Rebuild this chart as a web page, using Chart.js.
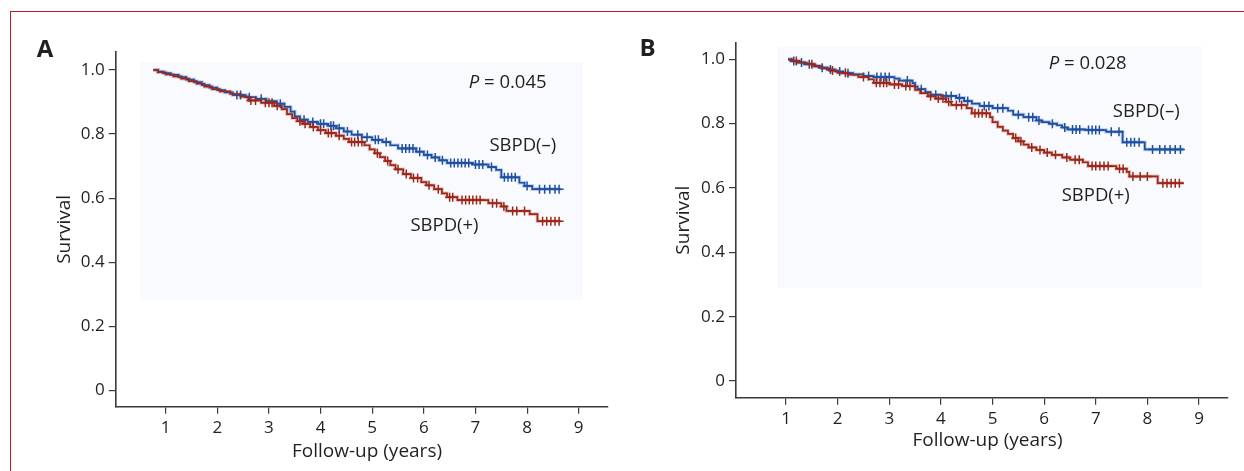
<!DOCTYPE html>
<html>
<head>
<meta charset="utf-8">
<title>Survival by SBPD</title>
<script src="https://cdn.jsdelivr.net/npm/chart.js@4.4.0/dist/chart.umd.min.js"></script>
<style>
  html, body { margin: 0; padding: 0; background: #fff; }
  body { width: 1244px; height: 471px; position: relative; overflow: hidden; }
  .frame {
    position: absolute; left: 10px; top: 11px; right: -10px; bottom: -10px;
    border-top: 1.5px solid #b0222d; border-left: 1.5px solid #b0222d;
  }
  .panel { position: absolute; top: 0; height: 471px; }
  #wrapA { left: 0; width: 620px; }
  #wrapB { left: 620px; width: 624px; }
</style>
</head>
<body>
<div class="frame"></div>
<div class="panel" id="wrapA"><canvas id="chartA" width="620" height="471"></canvas></div>
<div class="panel" id="wrapB"><canvas id="chartB" width="624" height="471"></canvas></div>
<script>
        // Axis ticks and labels
        const xTicks = [1, 2, 3, 4, 5, 6, 7, 8, 9];
        const xTickLabels = ['1', '2', '3', '4', '5', '6', '7', '8', '9'];
        const yTicks = [0, 0.2, 0.4, 0.6, 0.8, 1.0];
        const yTickLabels = ['0', '0.2', '0.4', '0.6', '0.8', '1.0'];
        const xTitle = 'Follow-up (years)';
        const yTitle = 'Survival';
        const groupLabels = ['SBPD(–)', 'SBPD(+)'];
        const pValues = ['0.045', '0.028'];

        // Panel A - SBPD(-): step times / survival after each step
        const aNegT = [0.76,0.85,0.95,1.1,1.25,1.4,1.55,1.7,1.85,2.0,2.15,2.3,2.55,2.75,2.95,3.15,3.3,3.42,3.5,3.6,3.75,3.95,4.15,4.3,4.45,4.6,4.8,5.0,5.2,5.35,5.5,5.85,6.0,6.15,6.3,6.45,6.95,7.25,7.4,7.5,7.85,7.95,8.1,8.65];
        const aNegS = [1.0,0.995,0.99,0.985,0.978,0.97,0.962,0.953,0.945,0.937,0.93,0.922,0.915,0.91,0.903,0.895,0.885,0.87,0.855,0.845,0.838,0.832,0.826,0.818,0.808,0.798,0.79,0.782,0.775,0.765,0.755,0.745,0.735,0.727,0.718,0.71,0.705,0.697,0.688,0.665,0.648,0.638,0.628,0.628];
        // censored marks
        const aNegCT = [2.38,2.45,2.62,2.85,3.22,3.68,3.85,4.0,4.06,4.2,4.25,4.36,4.52,4.72,4.9,5.06,5.12,5.27,5.58,5.65,5.72,5.79,5.92,6.07,6.22,6.36,6.52,6.59,6.66,6.73,6.8,6.87,7.0,7.07,7.14,7.31,7.56,7.63,7.7,7.77,8.0,8.24,8.34,8.44,8.54,8.62];
        const aNegCS = [0.922,0.922,0.915,0.91,0.895,0.845,0.838,0.832,0.832,0.826,0.826,0.818,0.808,0.798,0.79,0.782,0.782,0.775,0.755,0.755,0.755,0.755,0.745,0.735,0.727,0.718,0.71,0.71,0.71,0.71,0.71,0.71,0.705,0.705,0.705,0.697,0.665,0.665,0.665,0.665,0.638,0.628,0.628,0.628,0.628,0.628];

        // Panel A - SBPD(+)
        const aPosT = [0.76,0.85,1.0,1.15,1.3,1.45,1.6,1.75,1.9,2.05,2.25,2.45,2.6,2.85,3.1,3.25,3.35,3.45,3.55,3.65,3.8,3.95,4.1,4.3,4.45,4.55,4.85,4.95,5.05,5.15,5.25,5.35,5.45,5.6,5.75,5.95,6.05,6.2,6.35,6.45,6.65,7.25,7.5,7.6,8.05,8.2,8.65];
        const aPosS = [1.0,0.993,0.986,0.98,0.973,0.965,0.957,0.948,0.94,0.933,0.925,0.917,0.905,0.898,0.888,0.878,0.862,0.85,0.84,0.832,0.822,0.812,0.803,0.795,0.785,0.775,0.765,0.752,0.74,0.728,0.716,0.703,0.69,0.675,0.663,0.65,0.64,0.628,0.615,0.603,0.594,0.584,0.574,0.56,0.55,0.528,0.528];
        const aPosCT = [2.65,2.74,2.93,3.0,3.06,3.16,3.6,3.7,3.86,4.0,4.15,4.21,4.36,4.6,4.66,4.73,4.8,5.1,5.3,5.5,5.66,5.8,5.88,6.1,6.28,6.5,6.56,6.74,6.81,6.88,6.95,7.02,7.09,7.33,7.41,7.55,7.72,7.8,7.95,8.3,8.38,8.46,8.54,8.62];
        const aPosCS = [0.905,0.905,0.898,0.898,0.898,0.888,0.84,0.832,0.822,0.812,0.803,0.803,0.795,0.775,0.775,0.775,0.775,0.74,0.716,0.69,0.675,0.663,0.663,0.64,0.628,0.603,0.603,0.594,0.594,0.594,0.594,0.594,0.594,0.584,0.584,0.574,0.56,0.56,0.56,0.528,0.528,0.528,0.528,0.528];

        // Panel B - SBPD(-)
        const bNegT = [1.04,1.1,1.2,1.35,1.5,1.65,1.8,1.95,2.1,2.3,2.5,2.7,3.1,3.2,3.45,3.5,3.55,3.7,3.8,4.0,4.3,4.45,4.6,4.75,5.0,5.3,5.4,5.6,5.85,5.95,6.1,6.25,6.35,6.45,6.8,7.2,7.52,7.95,8.7];
        const bNegS = [1.0,0.995,0.99,0.985,0.98,0.974,0.968,0.962,0.957,0.953,0.948,0.945,0.94,0.934,0.926,0.915,0.907,0.898,0.89,0.886,0.88,0.87,0.862,0.855,0.848,0.84,0.828,0.82,0.81,0.805,0.8,0.795,0.788,0.782,0.78,0.775,0.742,0.72,0.72];
        const bNegCT = [1.15,1.3,1.45,1.7,1.86,2.04,2.2,2.6,2.76,2.84,2.92,3.0,3.35,3.62,3.9,4.1,4.2,4.36,4.52,4.84,4.93,5.1,5.2,5.5,5.7,5.78,5.9,6.16,6.4,6.55,6.62,6.69,6.86,6.93,7.0,7.07,7.3,7.45,7.6,7.68,7.75,7.84,8.1,8.24,8.34,8.44,8.54,8.64];
        const bNegCS = [0.995,0.99,0.985,0.974,0.968,0.962,0.957,0.948,0.945,0.945,0.945,0.945,0.934,0.907,0.89,0.886,0.886,0.88,0.87,0.855,0.855,0.848,0.848,0.828,0.82,0.82,0.81,0.8,0.788,0.782,0.782,0.782,0.78,0.78,0.78,0.78,0.775,0.775,0.742,0.742,0.742,0.742,0.72,0.72,0.72,0.72,0.72,0.72];

        // Panel B - SBPD(+)
        const bPosT = [1.04,1.12,1.25,1.4,1.55,1.7,1.85,2.0,2.2,2.4,2.6,2.7,3.0,3.25,3.5,3.6,3.75,3.9,4.1,4.2,4.5,4.6,4.95,5.0,5.1,5.2,5.3,5.4,5.5,5.6,5.7,5.85,6.0,6.15,6.35,6.5,6.75,6.85,7.4,7.6,7.65,8.2,8.7];
        const bPosS = [1.0,0.995,0.99,0.985,0.978,0.972,0.965,0.958,0.952,0.945,0.938,0.927,0.922,0.917,0.905,0.895,0.885,0.878,0.868,0.858,0.848,0.832,0.82,0.805,0.79,0.778,0.768,0.755,0.745,0.735,0.726,0.718,0.71,0.703,0.695,0.688,0.68,0.668,0.66,0.65,0.636,0.615,0.615];
        const bPosCT = [1.2,1.5,1.9,2.15,2.5,2.75,2.82,2.89,2.95,3.1,3.18,3.32,3.4,3.8,3.95,4.04,4.15,4.3,4.4,4.66,4.73,4.8,4.88,5.45,5.55,5.76,5.92,6.06,6.22,6.44,6.6,6.68,6.93,7.0,7.08,7.16,7.24,7.46,7.53,7.72,7.86,8.0,8.3,8.38,8.46,8.54,8.62];
        const bPosCS = [0.995,0.985,0.965,0.958,0.945,0.927,0.927,0.927,0.927,0.922,0.922,0.917,0.917,0.885,0.878,0.878,0.868,0.858,0.858,0.832,0.832,0.832,0.832,0.755,0.745,0.726,0.718,0.71,0.703,0.695,0.688,0.688,0.668,0.668,0.668,0.668,0.668,0.66,0.66,0.636,0.636,0.636,0.615,0.615,0.615,0.615,0.615];

        const ink = '#231f20';
        const axisInk = '#3a3a3a';
        const blue = '#1f4f9f';
        const red = '#9c2619';
        const font = '"Open Sans", "DejaVu Sans", sans-serif';

        const pts = (xs, ys) => xs.map((v, i) => ({ x: v, y: ys[i] }));

        // background tint, titles and in-plot labels
        const decor = {
            id: 'decor',
            beforeDatasetsDraw(chart, args, o) {
                const { ctx, scales: { x, y } } = chart;
                const l = x.getPixelForValue(o.shade[0]), r = x.getPixelForValue(o.shade[1]);
                const t = y.getPixelForValue(o.shade[2]), b = y.getPixelForValue(o.shade[3]);
                ctx.save();
                ctx.fillStyle = '#f9fafd';
                ctx.fillRect(l, t, r - l, b - t);
                ctx.restore();
            },
            afterDraw(chart, args, o) {
                const { ctx, chartArea: a, scales: { x, y } } = chart;
                ctx.save();
                ctx.fillStyle = ink;
                ctx.textBaseline = 'alphabetic';

                ctx.font = 'bold 24px ' + font;
                ctx.textAlign = 'left';
                ctx.fillText(o.letter, o.letterX, o.letterY);

                ctx.font = '19px ' + font;
                ctx.textAlign = 'center';
                ctx.fillText(xTitle, (a.left + a.right) / 2 + o.xTitleDx, o.xTitleY);
                ctx.save();
                ctx.translate(a.left + o.yTitleDx, (a.top + a.bottom) / 2);
                ctx.rotate(-Math.PI / 2);
                ctx.fillText(yTitle, 0, 0);
                ctx.restore();

                ctx.textAlign = 'left';
                let px = x.getPixelForValue(o.pAt[0]);
                const py = y.getPixelForValue(o.pAt[1]);
                ctx.font = 'italic 18.5px ' + font;
                ctx.fillText('P', px, py);
                px += ctx.measureText('P').width;
                ctx.font = '18.5px ' + font;
                ctx.fillText(' = ' + o.pText, px, py);

                ctx.fillText(groupLabels[0], x.getPixelForValue(o.negAt[0]), y.getPixelForValue(o.negAt[1]));
                ctx.fillText(groupLabels[1], x.getPixelForValue(o.posAt[0]), y.getPixelForValue(o.posAt[1]));
                ctx.restore();
            }
        };

        function stepSet(data, color, width, order) {
            return {
                type: 'line', data: data, stepped: true,
                borderColor: color, borderWidth: width, pointRadius: 0,
                fill: false, order: order
            };
        }

        function censorSet(data, color, order) {
            return {
                type: 'line', data: data, showLine: false,
                pointStyle: 'cross', pointRadius: 4.5, pointHoverRadius: 4.5,
                pointBorderWidth: 1.5, pointBorderColor: color, borderColor: color,
                order: order
            };
        }

        function makePanel(id, p) {
            return new Chart(document.getElementById(id), {
                type: 'line',
                data: {
                    datasets: [
                        censorSet(pts(p.posCT, p.posCS), red, 0),
                        stepSet(pts(p.posT, p.posS), red, 1.7, 1),
                        censorSet(pts(p.negCT, p.negCS), blue, 2),
                        stepSet(pts(p.negT, p.negS), blue, 1.7, 3),
                        stepSet(pts(p.posT, p.posS), 'rgba(190,110,100,0.4)', 3.6, 4),
                        stepSet(pts(p.negT, p.negS), 'rgba(110,150,215,0.45)', 3.6, 5)
                    ]
                },
                options: {
                    responsive: false,
                    animation: false,
                    events: [],
                    layout: { padding: { left: 0, top: p.top, right: p.right, bottom: 0 } },
                    plugins: {
                        legend: { display: false },
                        tooltip: { enabled: false },
                        decor: p.decor
                    },
                    scales: {
                        x: {
                            type: 'linear', min: p.xMin, max: p.xMax,
                            afterBuildTicks: s => { s.ticks = xTicks.map(v => ({ value: v })); },
                            afterFit: s => { s.height = p.xAxisH; },
                            border: { display: true, color: axisInk, width: 1.6 },
                            grid: { display: true, drawOnChartArea: false, drawTicks: true, tickLength: 7, color: axisInk, lineWidth: 1.2 },
                            ticks: {
                                autoSkip: false, maxRotation: 0, padding: 4, color: ink,
                                font: { family: font, size: 17 },
                                callback: (v, i) => xTickLabels[i]
                            }
                        },
                        y: {
                            type: 'linear', min: p.yMin, max: p.yMax,
                            afterBuildTicks: s => { s.ticks = yTicks.map(v => ({ value: v })); },
                            afterFit: s => { s.width = p.yAxisW; },
                            border: { display: true, color: axisInk, width: 1.6 },
                            grid: { display: true, drawOnChartArea: false, drawTicks: true, tickLength: 7, color: axisInk, lineWidth: 1.2 },
                            ticks: {
                                autoSkip: false, padding: 4, color: ink,
                                font: { family: font, size: 17 },
                                callback: (v, i) => yTickLabels[i]
                            }
                        }
                    }
                },
                plugins: [decor]
            });
        }

        window.onload = function() {
            makePanel('chartA', {
                negT: aNegT, negS: aNegS, negCT: aNegCT, negCS: aNegCS,
                posT: aPosT, posS: aPosS, posCT: aPosCT, posCS: aPosCS,
                xMin: 0.032, xMax: 9.561, yMin: -0.0512, yMax: 1.0562,
                top: 52, right: 12.3, yAxisW: 115.7, xAxisH: 64.3,
                decor: {
                    letter: 'A', letterX: 36.7, letterY: 57.3,
                    xTitleDx: 5.3, xTitleY: 456.5, yTitleDx: -45.8,
                    pText: pValues[0], pAt: [6.87, 0.944],
                    negAt: [7.27, 0.747], posAt: [5.74, 0.497],
                    shade: [0.5, 9.08, 1.025, 0.282]
                }
            });
            makePanel('chartB', {
                negT: bNegT, negS: bNegS, negCT: bNegCT, negCS: bNegCS,
                posT: bPosT, posS: bPosS, posCT: bPosCT, posCS: bPosCS,
                xMin: 0.031, xMax: 9.556, yMin: -0.0519, yMax: 1.0516,
                top: 42.7, right: 16.3, yAxisW: 116, xAxisH: 73.3,
                decor: {
                    letter: 'B', letterX: 19.4, letterY: 56,
                    xTitleDx: 5.6, xTitleY: 446, yTitleDx: -46.7,
                    pText: pValues[1], pAt: [6.09, 0.971],
                    negAt: [7.33, 0.822], posAt: [6.34, 0.56],
                    shade: [0.83, 9.06, 1.04, 0.29]
                }
            });
        };
</script>
</body>
</html>
